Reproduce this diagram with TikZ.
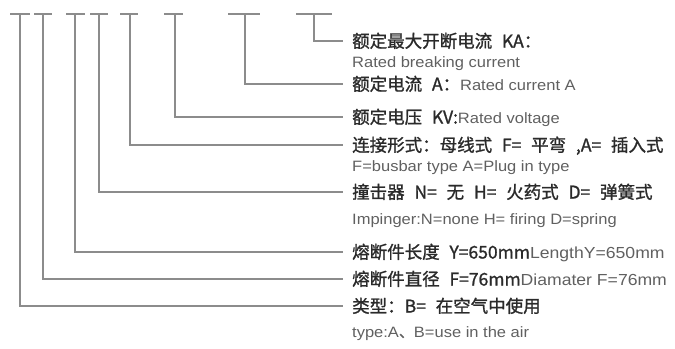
\documentclass[tikz,border=0pt]{standalone}
\usepackage{fontspec}
\newfontfamily\cjk{Noto Sans CJK SC}[FakeBold=1.2, WordSpace=2.5]
\newfontfamily\en{Liberation Sans}[FakeStretch=1.1]
\usetikzlibrary{positioning}
\definecolor{Ink}{HTML}{2A2A2A}
\definecolor{Note}{HTML}{606060}
\definecolor{Rule}{HTML}{8C8C8C}
\newcommand{\ennote}[2][15bp]{{\color{Note}\en\fontsize{#1}{17bp}\selectfont #2}}
\tikzset{
  leader/.style={draw=Rule, line width=1.1bp},
  cnlabel/.style={anchor=west, inner xsep=9bp, inner ysep=0pt, text height=14bp, text depth=1bp, text=Ink, font=\cjk\fontsize{17.5bp}{20bp}\selectfont},
  enlabel/.style={anchor=west, inner xsep=9bp, inner ysep=0pt, text height=10.5bp, text depth=0bp, text=Note, font=\en\fontsize{15bp}{17bp}\selectfont}
}

\begin{document}
\begin{tikzpicture}[x=1bp, y=-1bp]
  \useasboundingbox (0,0) rectangle (675,348);

  \coordinate (typ) at (20,14);
  \coordinate (dia) at (43,14);
  \coordinate (len) at (75,14);
  \coordinate (imp) at (99,14);
  \coordinate (con) at (130,14);
  \coordinate (vol) at (175,14);
  \coordinate (cur) at (245,14);
  \coordinate (brk) at (314,14);

  \node[cnlabel] (brkcn) at (343,41) {额定最大开断电流 KA：};
  \node[enlabel] (brken) at (343,62) {Rated breaking current};
  \node[cnlabel] (curcn) at (343,84) {额定电流 A：\ennote{Rated current A}};
  \node[cnlabel] (volcn) at (343,117) {额定电压 KV:\ennote{Rated voltage}};
  \node[cnlabel] (concn) at (343,145) {连接形式：母线式 F= 平弯 ,A= 插入式};
  \node[enlabel] (conen) at (343,166) {F=busbar type A=Plug in type};
  \node[cnlabel] (impcn) at (343,192) {撞击器 N= 无 H= 火药式 D= 弹簧式};
  \node[enlabel] (impen) at (343,219) {Impinger:N=none H= firing D=spring};
  \node[cnlabel] (lencn) at (343,252) {熔断件长度 Y=650mm\ennote[16bp]{LengthY=650mm}};
  \node[cnlabel] (diacn) at (343,279) {熔断件直径 F=76mm\ennote[16bp]{Diamater F=76mm}};
  \node[cnlabel] (typcn) at (343,306) {类型：B= 在空气中使用};
  \node[enlabel] (typen) at (343,332) {type:A{\cjk 、}B=use in the air};

  \draw[leader] ([xshift=-10bp]typ) -- ([xshift=10bp]typ);
  \draw[leader] ([xshift=-9bp]dia) -- ([xshift=9bp]dia);
  \draw[leader] ([xshift=-9bp]len) -- ([xshift=10bp]len);
  \draw[leader] ([xshift=-9bp]imp) -- ([xshift=9bp]imp);
  \draw[leader] ([xshift=-10bp]con) -- ([xshift=8bp]con);
  \draw[leader] ([xshift=-11bp]vol) -- ([xshift=8bp]vol);
  \draw[leader] ([xshift=-17bp]cur) -- ([xshift=15bp]cur);
  \draw[leader] ([xshift=-18bp]brk) -- ([xshift=18bp]brk);

  \draw[leader] (brk) |- (brkcn.west);
  \draw[leader] (cur) |- (curcn.west);
  \draw[leader] (vol) |- (volcn.west);
  \draw[leader] (con) |- (concn.west);
  \draw[leader] (imp) |- (impcn.west);
  \draw[leader] (len) |- (lencn.west);
  \draw[leader] (dia) |- (diacn.west);
  \draw[leader] (typ) |- (typcn.west);
\end{tikzpicture}
\end{document}
